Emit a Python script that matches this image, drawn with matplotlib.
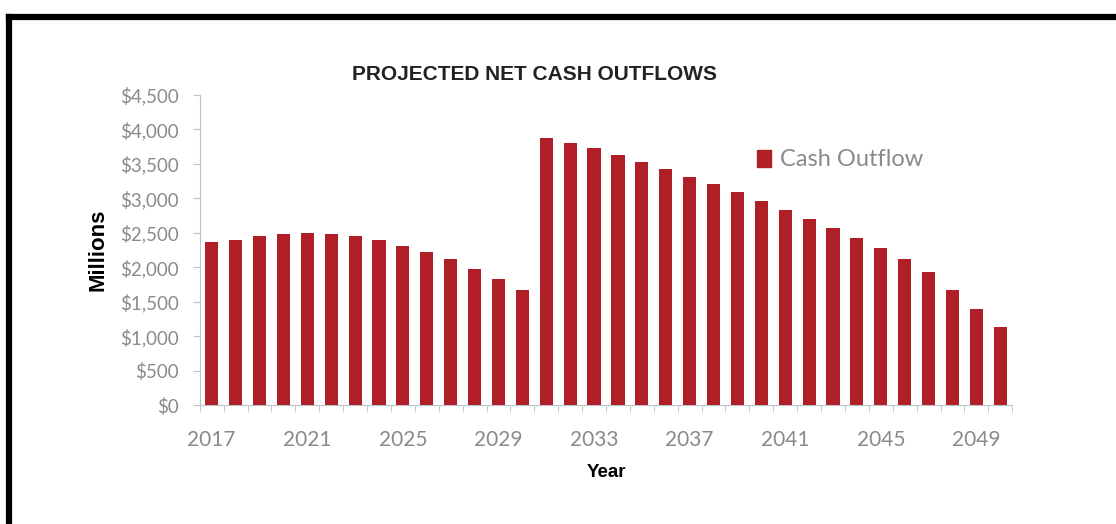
import matplotlib
matplotlib.use("Agg")
import matplotlib.pyplot as plt
from matplotlib.lines import Line2D
from matplotlib.patches import Patch
import numpy as np

years = list(range(2017, 2051))
outflow = [2362, 2395, 2453, 2478, 2492, 2478, 2453, 2390, 2303, 2226,
           2124, 1969, 1834, 1674, 3880, 3808, 3726, 3634, 3532, 3426,
           3314, 3203, 3087, 2961, 2831, 2695, 2574, 2419, 2274, 2119,
           1926, 1669, 1389, 1137]
label_years = years[::4]

BAR = "#b01e28"
GREY = "#8a8a8a"

fig = plt.figure(figsize=(11.16, 5.24), dpi=100)
ax = fig.add_axes([0.179, 0.227, 0.728, 0.592])

x = np.arange(len(years))
ax.bar(x, outflow, width=0.55, color=BAR, label="Cash Outflow", zorder=3)

ax.set_xlim(-0.5, len(years) - 0.5)
ax.set_ylim(0, 4500)
ax.set_yticks(np.arange(0, 4501, 500))
ax.set_yticklabels([f"${v:,.0f}" for v in np.arange(0, 4501, 500)],
                   fontsize=13.5, color=GREY, family="Lato")

ax.set_xticks([years.index(y) for y in label_years])
ax.set_xticklabels([str(y) for y in label_years], fontsize=15, color=GREY,
                   family="Lato")
ax.set_xticks(np.arange(-0.5, len(years)), minor=True)
ax.tick_params(axis="x", which="major", length=0, pad=18)
ax.tick_params(axis="x", which="minor", length=5, color="#b9c4cc", direction="out")
ax.tick_params(axis="y", length=5, color="#b9c4cc", pad=10)

for s in ["top", "right"]:
    ax.spines[s].set_visible(False)
ax.spines["left"].set_color("#b9c4cc")
ax.spines["bottom"].set_color("#b9c4cc")

ax.set_ylabel("Millions", fontsize=16, fontweight="bold", family="Liberation Sans",
              labelpad=8)
ax.set_xlabel("Year", fontsize=13.5, fontweight="bold", family="Liberation Sans",
              labelpad=10)

fig.text(0.479, 0.857, "PROJECTED NET CASH OUTFLOWS", ha="center", va="center",
         fontsize=15, fontweight="bold", family="Liberation Sans", color="#222")

ax.legend(handles=[Patch(color=BAR, label="Cash Outflow")], loc="center left",
          bbox_to_anchor=(0.66, 0.79), frameon=False,
          labelcolor=GREY, prop={"family": "Lato", "size": 17},
          handlelength=0.6, handleheight=0.75, handletextpad=0.35)

# scanned page frame
fig.add_artist(Line2D([0.0085, 0.997], [0.967, 0.967], color="black", lw=4.5))
fig.add_artist(Line2D([0.0085, 0.0085], [0.0, 0.967], color="black", lw=4.5))

fig.savefig("out.png", dpi=100, facecolor="white")
